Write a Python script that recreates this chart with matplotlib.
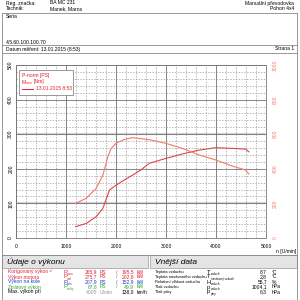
import matplotlib
matplotlib.use('Agg')
import matplotlib.pyplot as plt

plt.rcParams['font.family'] = ['Liberation Sans', 'DejaVu Sans']

# power curve (P-norm, PS) and torque curve (M-norm, Nm)
rpm = [1194, 1406, 1605, 1738, 1871, 2004, 2169, 2335, 2500, 2667, 2999, 3330, 3662, 3994, 4325, 4591, 4657]
p_norm = [33, 42, 62, 86, 139, 153, 168, 182, 197, 216, 230, 243, 254, 261, 259, 257, 249]
rpm_m = [1194, 1406, 1605, 1738, 1837, 1904, 2004, 2169, 2335, 2667, 2999, 3330, 3662, 3994, 4325, 4591, 4657]
m_norm = [200, 230, 287, 364, 470, 518, 548, 570, 580, 568, 547, 518, 480, 451, 416, 393, 370]

x_ticks = [0, 1000, 2000, 3000, 4000, 5000]
y_ticks = [0, 100, 200, 300, 400, 500]
y2_ticks = [0, 200, 400, 600, 800, 1000]

rows_left = [
    ('Korigovaný výkon ¹⁾', 'P', 'norm', '265,9', '195,5', '#e02030'),
    ('Výkon motoru', 'P', 'mot', '275,7', '202,8', '#e02030'),
    ('Výkon na kole', 'P', 'kolo', '207,9', '152,9', '#2040c8'),
    ('Ztrátový výkon', 'P', 'ztráty', '67,8', '49,9', '#30a030'),
]
rows_right = [
    ('Teplota vzduchu', 'T', 'vzduch', '8,7', '°C'),
    ('Teplota nasávaného vzduchu', 'T', 'nasávaný vzduch', '2,8', '°C'),
    ('Relativní vlhkost vzduchu', 'H', 'vzduch', '55,7', '%'),
    ('Tlak vzduchu', 'p', 'vzduch', '1004,1', 'hPa'),
    ('Tlak páry', 'p', 'páry', '6,3', 'hPa'),
]

W = H = 300.0
fs = 3.6
sub_fs = 2.1
red = '#e02030'
salmon = '#ee7a6a'

fig = plt.figure(figsize=(3, 3), dpi=100)


def t(x, y, s, **kw):
    kw.setdefault('fontsize', fs)
    kw.setdefault('va', 'center')
    fig.text(x / W, 1 - y / H, s, **kw)


def sym_sub(x, y, sym, sub, **kw):
    t(x, y, sym, fontsize=fs + 0.6, **kw)
    t(x + 4, y + 1.6, sub, fontsize=sub_fs, **kw)


def hline(y, x0=2, x1=297, **kw):
    fig.add_artist(plt.Line2D([x0 / W, x1 / W], [1 - y / H, 1 - y / H], color='#888888', lw=0.6, **kw))


def vline(x, y0, y1):
    fig.add_artist(plt.Line2D([x / W, x / W], [1 - y0 / H, 1 - y1 / H], color='#888888', lw=0.6))


# header
t(6, 3, 'Reg. značka:')
t(50, 3, 'BA MC 231')
t(6, 9, 'Technik:')
t(50, 9, 'Manek, Maros')
t(294, 3, 'Manuální převodovka', ha='right')
t(294, 9, 'Pohon 4x4', ha='right')
hline(13)
t(6, 17, 'Seria')
t(6, 42, '4.5.60.100.100.70')
hline(45)
t(6, 49, 'Datum měření: 13.01.2015 (8:53)')
t(294, 49, 'Strana 1', ha='right')
hline(53)
vline(2, 13, 300)
vline(297, 13, 300)
hline(255)

# chart
ax = fig.add_axes([16 / W, 1 - 238 / H, 250 / W, 173 / H])
ax.set_xlim(0, 5000)
ax.set_ylim(0, 500)
ax.set_xticks(x_ticks)
ax.set_xticks(range(0, 5001, 200), minor=True)
ax.set_yticks(y_ticks)
ax.set_yticks(range(0, 501, 20), minor=True)
ax.grid(which='minor', color='#9a9a9a', lw=0.5, ls=(0, (2, 2)))
ax.grid(which='major', color='#707070', lw=0.6)
for v in (100, 300):
    ax.axhline(v, color='#d4d4d4', lw=1.6, zorder=1.5)
ax.tick_params(which='both', length=0, labelsize=fs)
ax.tick_params(axis='x', pad=4)
ax.tick_params(axis='y', pad=2)
for lab in ax.get_yticklabels():
    lab.set_rotation(90)
    lab.set_va('center')
for s in ax.spines.values():
    s.set_color('#777777')
    s.set_linewidth(0.6)

ax2 = ax.twinx()
ax2.set_ylim(0, 1000)
ax2.set_yticks(y2_ticks)
ax2.tick_params(length=0, labelsize=fs, labelcolor=salmon, pad=5)
for lab in ax2.get_yticklabels():
    lab.set_rotation(90)
    lab.set_va('center')
for s in ax2.spines.values():
    s.set_visible(False)

ax.plot(rpm, p_norm, color='#d84848', lw=0.8, zorder=3)
ax2.plot(rpm_m, m_norm, color=salmon, lw=0.8, zorder=3)

t(296, 252, 'n [U/min]', ha='right')

# legend box
fig.add_artist(plt.Rectangle((19 / W, 1 - 95 / H), 54 / W, 25 / H, facecolor='white',
                             edgecolor='#888888', lw=0.6, zorder=5))
t(22, 75, 'P-norm [PS]', color=red, zorder=6)
t(22, 82, 'M', color=red, zorder=6)
t(26, 83.3, 'norm', color=red, fontsize=sub_fs, zorder=6)
t(34, 82, '[Nm]', color=red, zorder=6)
fig.add_artist(plt.Line2D([22 / W, 33 / W], [1 - 89 / H, 1 - 89 / H], color=red, lw=0.7, zorder=6))
t(36, 89, '13.01.2015 8:53', color=red, zorder=6)

# section headers
for x0, x1, title in [(2, 148, 'Údaje o výkonu'), (150, 297, 'Vnější data')]:
    fig.add_artist(plt.Rectangle((x0 / W, 1 - 268 / H), (x1 - x0) / W, 13 / H,
                                 facecolor='#e4e4e4', edgecolor='#999999', lw=0.5))
    t(x0 + 5, 262, title, fontsize=6, style='italic')

# performance table
for i, (name, sym, sub, ps, kw, col) in enumerate(rows_left):
    y = 272 + 5 * i
    t(8, y, name, color=col)
    sym_sub(63, y, sym, sub, color=col)
    t(97, y, ps, color=col, ha='right')
    t(100, y, 'PS', color=col)
    t(116, y, '/', color=col)
    t(134, y, kw, color=col, ha='right')
    t(137, y, 'kW', color=col)
t(8, 292, 'Max. výkon při')
t(97, 292, '4005', color='#999999', ha='right')
t(100, 292, 'U/min', color='#999999')
t(134, 292, '138,0', ha='right')
t(137, 292, 'km/h')

# ambient table
for i, (name, sym, sub, val, unit) in enumerate(rows_right):
    y = 272 + 5 * i
    t(155, y, name, fontsize=2.9)
    sym_sub(207, y, sym, sub)
    t(267, y, val, ha='right')
    t(272, y, unit)

fig.savefig('out.png', dpi=100)
